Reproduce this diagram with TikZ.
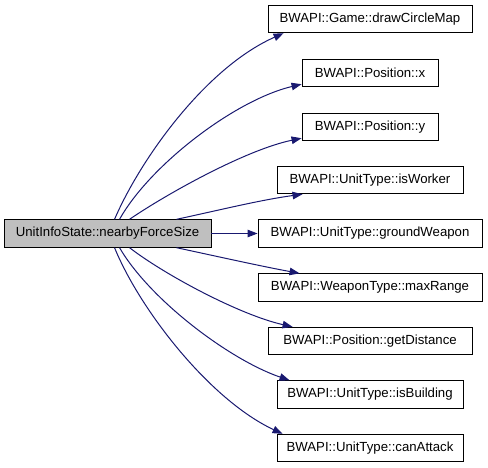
\documentclass[tikz,border=0pt]{standalone}
\usepackage{fontspec}
\setmainfont{Liberation Sans}
\usetikzlibrary{arrows.meta}
\definecolor{edgeblue}{HTML}{191970}
\definecolor{maingray}{HTML}{BFBFBF}
\begin{document}
\begin{tikzpicture}[x=1pt,y=-1pt,
  box/.style={draw=black, line width=0.9pt, fill=white, minimum height=27.5pt, inner sep=0pt, font=\fontsize{13.2}{15}\selectfont},
  edge/.style={draw=edgeblue, line width=1pt, -{Triangle[length=10pt,width=7.5pt]}}]
\useasboundingbox (0,0) rectangle (488,467);
\node[box, fill=maingray, minimum width=207pt] (main) at (107.5,233.5) {UnitInfoState::nearbyForceSize};
\node[box, minimum width=204pt] (t1) at (370,19) {BWAPI::Game::drawCircleMap};
\node[box, minimum width=136pt] (t2) at (370,73) {BWAPI::Position::x};
\node[box, minimum width=136pt] (t3) at (370,127) {BWAPI::Position::y};
\node[box, minimum width=186pt] (t4) at (370,180) {BWAPI::UnitType::isWorker};
\node[box, minimum width=224pt] (t5) at (370,233.5) {BWAPI::UnitType::groundWeapon};
\node[box, minimum width=224pt] (t6) at (370,287.5) {BWAPI::WeaponType::maxRange};
\node[box, minimum width=204pt] (t7) at (370,341) {BWAPI::Position::getDistance};
\node[box, minimum width=186pt] (t8) at (370,394.5) {BWAPI::UnitType::isBuilding};
\node[box, minimum width=186pt] (t9) at (370,448) {BWAPI::UnitType::canAttack};
\draw[edge] ([xshift=111pt]main.north west) .. controls (140,160) and (205,68) .. ([xshift=16pt]t1.south west);
\draw[edge] ([xshift=116pt]main.north west) .. controls (150,165) and (235,100) .. ([yshift=3pt]t2.south west);
\draw[edge] ([xshift=126pt]main.north west) .. controls (165,195) and (245,150) .. ([yshift=3pt]t3.south west);
\draw[edge] ([xshift=173pt]main.north west) .. controls (220,210) and (260,200) .. ([xshift=26pt]t4.south west);
\draw[edge] (main.east) -- (t5.west);
\draw[edge] ([xshift=173pt]main.south west) .. controls (220,257) and (260,266) .. ([xshift=42pt]t6.north west);
\draw[edge] ([xshift=126pt]main.south west) .. controls (165,275) and (240,315) .. ([xshift=25pt]t7.north west);
\draw[edge] ([xshift=116pt]main.south west) .. controls (150,300) and (230,360) .. ([xshift=13pt]t8.north west);
\draw[edge] ([xshift=111pt]main.south west) .. controls (140,310) and (210,400) .. ([xshift=6pt]t9.north west);
\end{tikzpicture}
\end{document}
